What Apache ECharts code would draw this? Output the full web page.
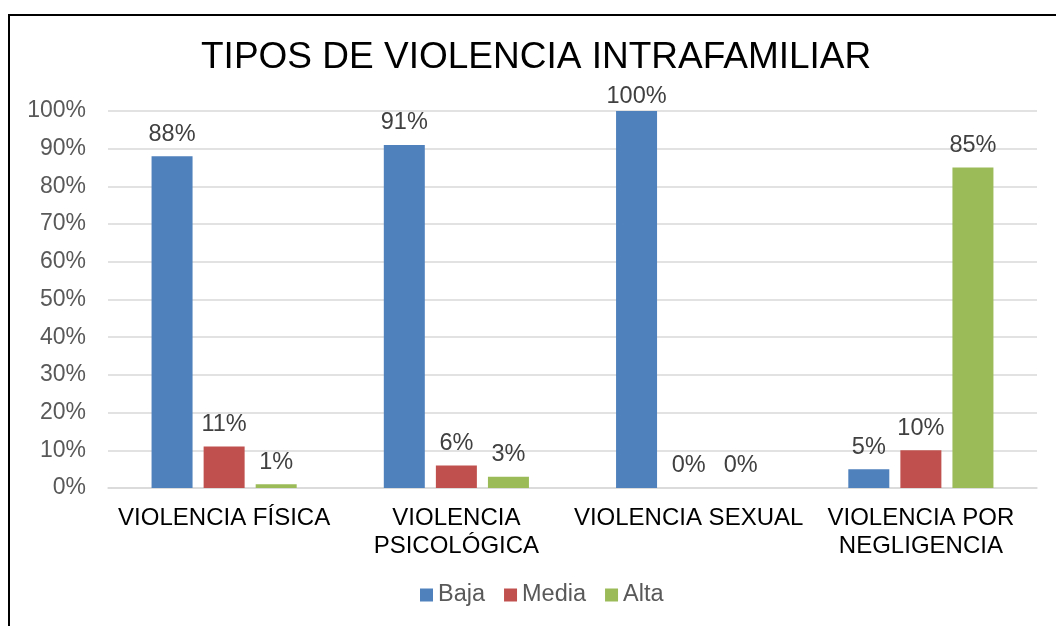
<!DOCTYPE html>
<html>
<head>
<meta charset="utf-8">
<script src="https://cdn.jsdelivr.net/npm/echarts@6/dist/echarts.min.js"></script>
<style>
  html, body { margin: 0; padding: 0; background: #fff; }
  #main { width: 1056px; height: 626px; }
</style>
</head>
<body>
<div id="main"></div>
<script>
// datos del grafico
var categorias = ["VIOLENCIA FÍSICA", "VIOLENCIA\nPSICOLÓGICA", "VIOLENCIA SEXUAL", "VIOLENCIA POR\nNEGLIGENCIA"];
var baja = [88, 91, 100, 5];
var media = [11, 6, 0, 10];
var alta = [1, 3, 0, 85];
var ticks = [0, 10, 20, 30, 40, 50, 60, 70, 80, 90, 100];

var chart = echarts.init(document.getElementById("main"));
var fuente = "'Liberation Sans', Arial, sans-serif";

function serie(name, data, color) {
  return {
    name: name,
    type: "bar",
    // la etiqueta del 100% queda pegada al borde del area, como en Excel
    data: data.map(function (v) {
      return v >= 100 ? { value: v, label: { distance: 2 } } : v;
    }),
    barWidth: 41,
    barGap: "27%",
    itemStyle: { color: color },
    label: {
      show: true,
      position: "top",
      distance: 10,
      formatter: "{c}%",
      color: "#404040",
      fontSize: 23.5,
      fontFamily: fuente
    }
  };
}

var option = {
  animation: false,
  textStyle: { fontFamily: fuente },
  title: {
    text: "TIPOS DE VIOLENCIA INTRAFAMILIAR",
    left: 196,
    top: 34,
    textStyle: { fontSize: 37, fontWeight: "normal", color: "#000", fontFamily: fuente }
  },
  graphic: [{
    type: "rect",
    shape: { x: 9, y: 15, width: 1200, height: 800 },
    style: { fill: "none", stroke: "#000", lineWidth: 2 }
  }],
  legend: {
    data: ["Baja", "Media", "Alta"],
    left: 415,
    top: 578,
    icon: "rect",
    itemWidth: 13,
    itemHeight: 13,
    itemGap: 19,
    textStyle: { fontSize: 23.5, color: "#595959", fontFamily: fuente }
  },
  grid: { left: 108, right: 19, top: 111, bottom: 138 },
  xAxis: {
    type: "category",
    data: categorias,
    axisLine: { lineStyle: { color: "#d9d9d9", width: 1.5 } },
    axisTick: { show: false },
    axisLabel: { color: "#000", fontSize: 24, margin: 16, lineHeight: 28, interval: 0, fontFamily: fuente }
  },
  yAxis: {
    type: "value",
    min: ticks[0],
    max: ticks[ticks.length - 1],
    interval: 10,
    axisLine: { show: false },
    axisTick: { show: false },
    splitLine: { lineStyle: { color: "#d9d9d9", width: 1.5 } },
    axisLabel: { formatter: "{value}%", color: "#595959", fontSize: 23, margin: 22, fontFamily: fuente }
  },
  series: [
    serie("Baja", baja, "#4F81BD"),
    serie("Media", media, "#C0504D"),
    serie("Alta", alta, "#9BBB59")
  ]
};
chart.setOption(option);
</script>
</body>
</html>
